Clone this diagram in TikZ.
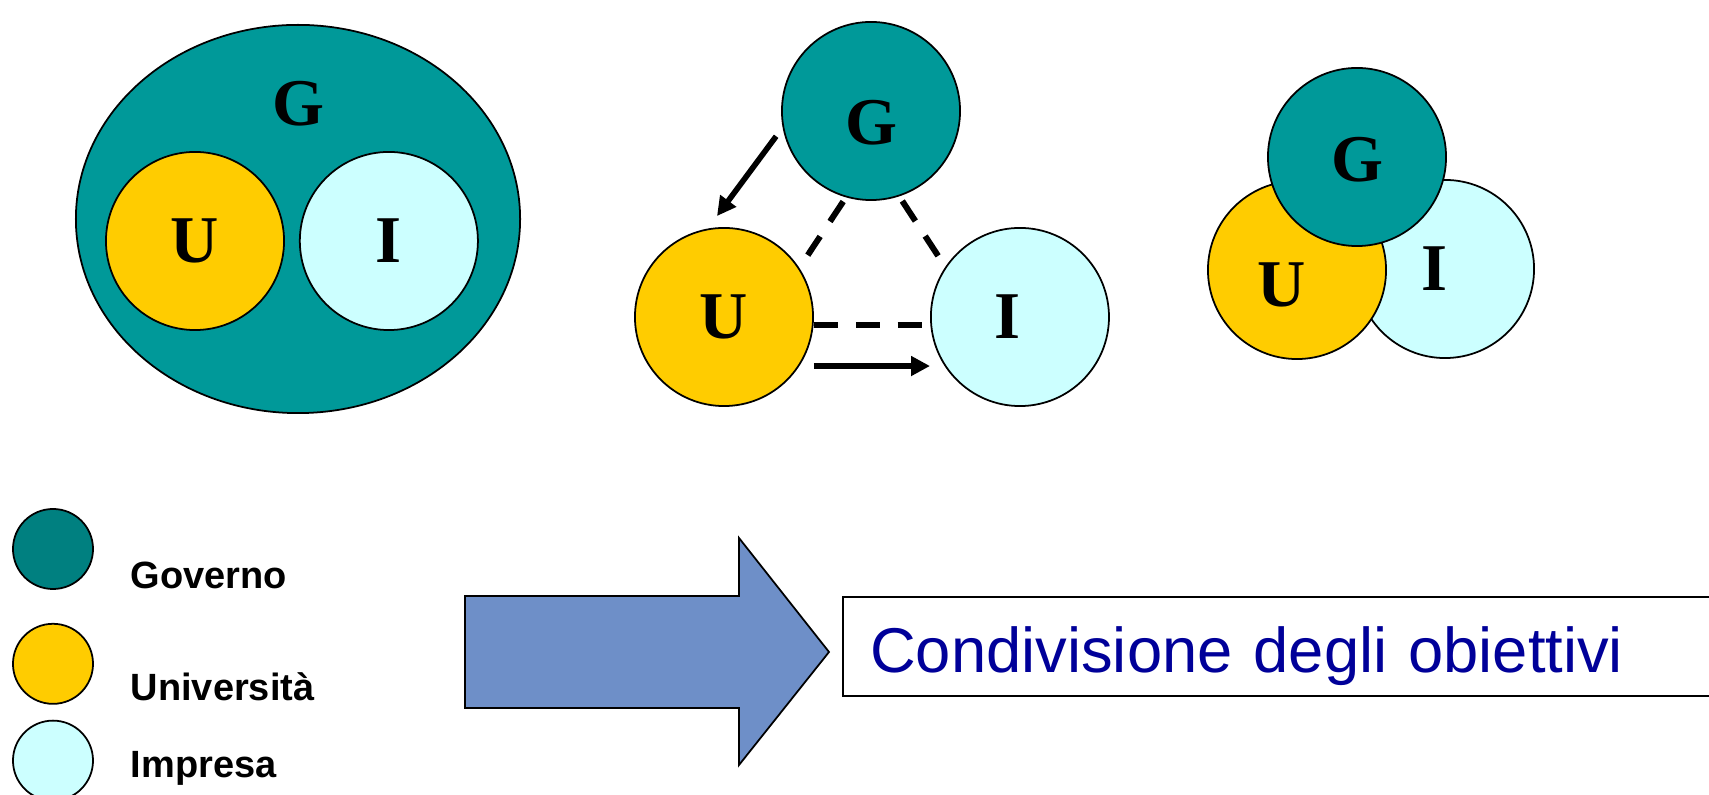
\documentclass[tikz,border=0pt]{standalone}
\usepackage{fontspec}
\usepackage{tikz}
\usetikzlibrary{shapes.geometric}
\usetikzlibrary{positioning}
\usetikzlibrary{arrows.meta}
\setmainfont{Liberation Serif}
\newfontfamily\arialfont{Liberation Sans}
\definecolor{govTeal}{HTML}{009999}
\definecolor{legTeal}{HTML}{008080}
\definecolor{uniYellow}{HTML}{FFCC00}
\definecolor{impCyan}{HTML}{CCFFFF}
\definecolor{goalBlue}{HTML}{000099}
\definecolor{arrowBlue}{HTML}{6E8FC8}
\tikzstyle{letter} = [font=\fontsize{19}{22}\selectfont\bfseries]
\tikzstyle{actor} = [circle, minimum size=1.78cm, inner sep=0pt, draw=black, line width=0.5pt, letter]
\tikzstyle{gov} = [actor, fill=govTeal]
\tikzstyle{uni} = [actor, fill=uniYellow]
\tikzstyle{imp} = [actor, fill=impCyan]
\tikzstyle{legend} = [circle, minimum size=0.8cm, inner sep=0pt, draw=black, line width=0.5pt]
\tikzstyle{legendtext} = [anchor=base west, inner sep=0pt, font=\arialfont\fontsize{10.8}{13}\selectfont\bfseries]
\tikzstyle{goalbox} = [rectangle, anchor=west, draw=black, line width=0.7pt, minimum height=0.99cm, text width=8.8cm, text height=0.6cm, text depth=0.09cm, inner xsep=0.27cm, align=left, text=goalBlue, font=\arialfont\fontsize{18}{22}\selectfont]
\tikzstyle{arrow} = [line width=1.6pt, -{Triangle[length=5.4pt, width=5.4pt]}]
\tikzstyle{tie} = [line width=1.7pt, dash pattern=on 6.8pt off 5.1pt]

\begin{document}
\begin{tikzpicture}[x=0.01cm, y=-0.01cm]
    \useasboundingbox (0,0) rectangle (1709,795);
    \clip (0,0) rectangle (1709,795);

    % government containing the other two
    \node (outerG) [ellipse, draw=black, line width=0.5pt, fill=govTeal, minimum width=4.44cm, minimum height=3.88cm] at (298,219) {};
    \node (outerGLab) [letter] at (298,104) {G};
    \node (lU) [uni] at (195,241) {U};
    \node (lI) [imp, right=0.14cm of lU] {I};

    % three separate actors
    \node (mG) [gov, label={[letter, yshift=-0.12cm]center:G}] at (871,111) {};
    \node (mU) [uni] at (724,317) {U};
    \node (mI) [imp, right=1.16cm of mU, label={[letter, xshift=-0.12cm]center:I}] {};

    \draw [arrow] ([shift={(-0.08cm,-0.02cm)}]mG.195) -- ([shift={(-0.07cm,0.11cm)}]mU.north);
    \draw [tie] ([shift={(0cm,-0.05cm)}]mG.252) -- ([shift={(0.11cm,0.09cm)}]mU.36);
    \draw [tie] ([shift={(0.02cm,-0.05cm)}]mG.289) -- ([shift={(-0.10cm,0.07cm)}]mI.143);
    \draw [tie] ([yshift=-0.08cm]mU.east) -- ([shift={(-0.07cm,-0.08cm)}]mI.west);
    \draw [arrow] ([yshift=-0.49cm]mU.east) -- ([yshift=-0.49cm]mI.west);

    % overlapping actors
    \node (tI) [imp, label={[letter, xshift=-0.11cm]center:I}] at (1445,269) {};
    \node (tU) [uni, label={[letter, xshift=-0.15cm, yshift=-0.15cm]center:U}] at (1297,270) {};
    \node (tG) [gov, label={[letter, yshift=-0.03cm]center:G}] at (1357,157) {};

    % legend
    \node (legG) [legend, fill=legTeal] at (53,549) {};
    \node (legU) [legend, fill=uniYellow, below=0.33cm of legG] {};
    \node (legI) [legend, fill=impCyan, below=0.15cm of legU] {};
    \node (govText) [legendtext] at (130,589) {Governo};
    \node (uniText) [legendtext] at (130,701) {Università};
    \node (impText) [legendtext] at (130,778) {Impresa};

    % big arrow and goal
    \draw [draw=black, line width=0.5pt, fill=arrowBlue] (465,596) -- (739,596) -- (739,538) -- (829,652) -- (739,765) -- (739,708) -- (465,708) -- cycle;
    \node (goal) [goalbox] at (842,646.5) {Condivisione degli obiettivi};

\end{tikzpicture}
\end{document}
